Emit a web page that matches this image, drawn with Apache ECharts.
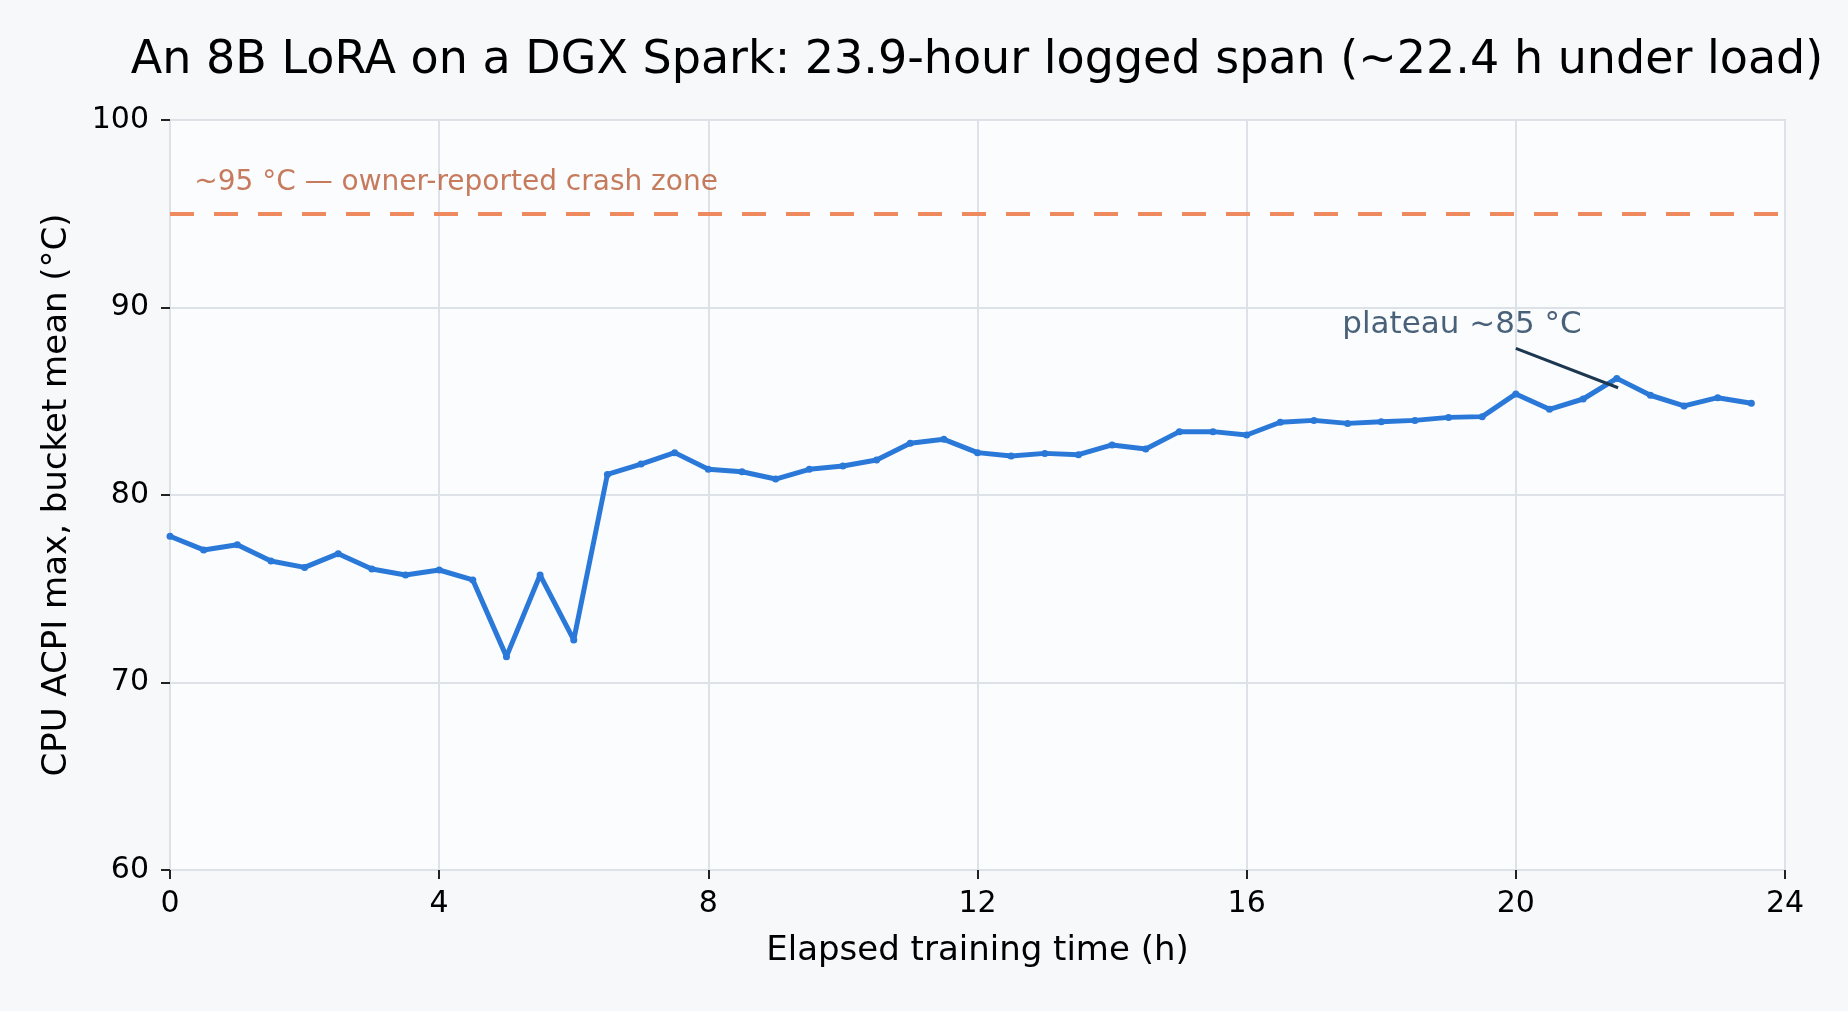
<!DOCTYPE html>
<html>
<head>
<meta charset="utf-8">
<title>CPU ACPI max over training</title>
<script src="https://cdn.jsdelivr.net/npm/echarts@6/dist/echarts.min.js"></script>
<style>
  html, body { margin: 0; padding: 0; background: #f7f8fa; }
  #chart { width: 1848px; height: 1011px; }
</style>
</head>
<body>
<div id="chart"></div>
<script>
    'use strict';

    // elapsed hours (bucket starts) and bucket-mean CPU ACPI max temperature
    var hours = [0, 0.5, 1, 1.5, 2, 2.5, 3, 3.5, 4, 4.5, 5, 5.5, 6, 6.5, 7, 7.5,
        8, 8.5, 9, 9.5, 10, 10.5, 11, 11.5, 12, 12.5, 13, 13.5, 14, 14.5, 15, 15.5,
        16, 16.5, 17, 17.5, 18, 18.5, 19, 19.5, 20, 20.5, 21, 21.5, 22, 22.5, 23, 23.5];
    var temps = [77.8, 77.07, 77.35, 76.48, 76.14, 76.87, 76.05, 75.73, 76.0, 75.47, 71.38, 75.73,
        72.27, 81.1, 81.65, 82.26, 81.37, 81.24, 80.85, 81.37, 81.55, 81.87, 82.76, 82.97,
        82.26, 82.08, 82.22, 82.15, 82.67, 82.45, 83.38, 83.38, 83.2, 83.88, 83.98, 83.82,
        83.91, 83.98, 84.14, 84.18, 85.39, 84.57, 85.12, 86.22, 85.32, 84.75, 85.19, 84.89];

    var xTicks = { min: 0, max: 24, step: 4 };
    var yTicks = { min: 60, max: 100, step: 10 };

    var crashTemp = 95;
    var crashText = '~95 °C — owner-reported crash zone';
    var crashTextAt = [[0.36, 96.68]];
    var plateauText = 'plateau ~85 °C';
    var plateauTextAt = [[19.2, 89.07]];
    var plateauPointer = [[20.0, 87.82], [21.52, 85.72]];

    var FONT = 'DejaVu Sans';

    var el = document.getElementById('chart');
    var chart = echarts.init(el, null, { renderer: 'canvas' });

    var points = hours.map(function(h, i) {
        return [h, temps[i]];
    });

    var option = {
        animation: false,
        backgroundColor: '#f7f8fa',
        textStyle: { fontFamily: FONT },
        graphic: [{
            type: 'text',
            x: 977,
            y: 61,
            style: {
                text: 'An 8B LoRA on a DGX Spark: 23.9-hour logged span (~22.4 h under load)',
                fontFamily: FONT,
                fontSize: 46,
                fill: '#000',
                textAlign: 'center',
                textVerticalAlign: 'middle'
            }
        }],
        grid: {
            left: 170,
            top: 120,
            width: 1615,
            height: 750,
            show: true,
            backgroundColor: '#fafcfe',
            borderColor: '#cfd5dc',
            borderWidth: 2
        },
        xAxis: {
            type: 'value',
            min: xTicks.min,
            max: xTicks.max,
            interval: xTicks.step,
            name: 'Elapsed training time (h)',
            nameLocation: 'middle',
            nameGap: 64,
            nameTextStyle: { fontFamily: FONT, fontSize: 34, color: '#000' },
            axisLine: { show: false },
            axisTick: { show: true, length: 9, lineStyle: { color: '#222', width: 2 } },
            axisLabel: { margin: 19, fontFamily: FONT, fontSize: 30, color: '#000' },
            splitLine: { show: true, lineStyle: { color: '#dde2e8', width: 2 } }
        },
        yAxis: {
            type: 'value',
            min: yTicks.min,
            max: yTicks.max,
            interval: yTicks.step,
            name: 'CPU ACPI max, bucket mean (°C)',
            nameLocation: 'middle',
            nameGap: 96,
            nameTextStyle: { fontFamily: FONT, fontSize: 34, color: '#000' },
            axisLine: { show: false },
            axisTick: { show: true, length: 9, lineStyle: { color: '#222', width: 2 } },
            axisLabel: { margin: 21, fontFamily: FONT, fontSize: 30, color: '#000' },
            splitLine: { show: true, lineStyle: { color: '#dde2e8', width: 2 } }
        },
        series: [{
            name: 'threshold',
            type: 'line',
            data: [],
            silent: true,
            markLine: {
                silent: true,
                symbol: 'none',
                label: { show: false },
                lineStyle: { color: '#ef8a5e', width: 4, type: [24, 20] },
                data: [{ yAxis: crashTemp }]
            }
        }, {
            name: 'cpu',
            type: 'line',
            data: points,
            symbol: 'circle',
            symbolSize: 7,
            showSymbol: true,
            itemStyle: { color: '#2a78d8' },
            lineStyle: { color: '#2a78d8', width: 5 },
            z: 5
        }, {
            name: 'pointer',
            type: 'line',
            data: plateauPointer,
            symbol: 'none',
            lineStyle: { color: '#1c3850', width: 3 },
            z: 6
        }, {
            name: 'crashLabel',
            type: 'scatter',
            data: crashTextAt,
            symbolSize: 0,
            label: {
                show: true,
                position: 'right',
                distance: 0,
                formatter: crashText,
                fontFamily: FONT,
                fontSize: 28,
                color: '#b95a35'
            }
        }, {
            name: 'plateauLabel',
            type: 'scatter',
            data: plateauTextAt,
            symbolSize: 0,
            label: {
                show: true,
                position: 'inside',
                formatter: plateauText,
                fontFamily: FONT,
                fontSize: 31,
                color: '#1c3a58'
            }
        }]
    };

    chart.setOption(option);
</script>
</body>
</html>
